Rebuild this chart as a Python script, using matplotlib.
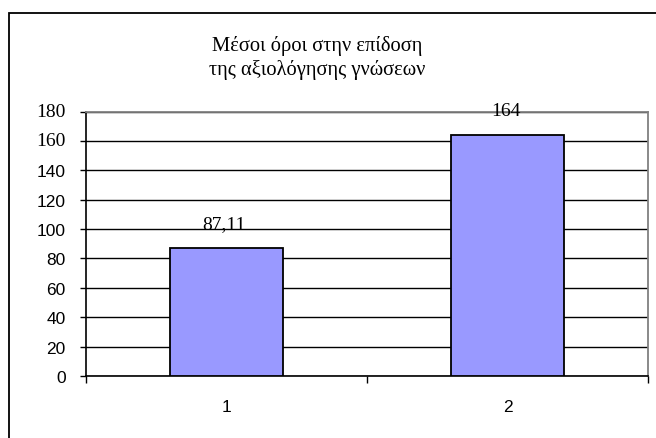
import matplotlib
matplotlib.use("Agg")
import matplotlib.pyplot as plt
from matplotlib.patches import Rectangle

categories = ["1", "2"]
values = [87.11, 164]
value_labels = ["87,11", "164"]
yticks = [0, 20, 40, 60, 80, 100, 120, 140, 160, 180]
serif_yticks = [160, 180]
title_lines = ["Μέσοι όροι στην επίδοση", "της αξιολόγησης γνώσεων"]

W, H = 656, 439
fig = plt.figure(figsize=(W / 100, H / 100), dpi=100)
fig.patch.set_facecolor("white")

# outer chart frame (cut off right and bottom)
fig.patches.append(Rectangle((9 / W, -0.05), 1.1, (H - 14) / H + 0.05,
                             transform=fig.transFigure, fill=False,
                             edgecolor="black", linewidth=1.3))

left, right, top, bottom = 86, 648, 112.5, 377
ax = fig.add_axes([left / W, (H - bottom) / H, (right - left) / W, (bottom - top) / H])

x = list(range(len(categories)))
ax.bar(x, values, width=0.4, color="#9999FF", edgecolor="black", linewidth=1.3, zorder=3)
ax.set_xlim(-0.5, len(categories) - 0.5)
ax.set_ylim(0, 180)

for xi, v, lab in zip(x, values, value_labels):
    ax.annotate(lab, (xi, v), xytext=(-1.5, 14.5), textcoords="offset points",
                ha="center", va="baseline", fontsize=14, family="Liberation Serif", zorder=5)

ax.yaxis.grid(True, color="black", linewidth=1.0, zorder=1)
ax.set_axisbelow(True)

ax.set_xticks(x)
ax.set_xticklabels(categories, fontsize=12.5, family="Liberation Sans")
ax.tick_params(axis="x", length=0, pad=16.5)
ax.set_xticks([-0.5, 0.5, 1.5], minor=True)
ax.tick_params(axis="x", which="minor", length=5, width=1, color="black")
ax.tick_params(axis="y", length=4.5, width=1, color="black", pad=10)

ax.set_yticks(yticks)
ax.set_yticklabels(["" if t in serif_yticks else str(t) for t in yticks],
                   fontsize=12.5, family="Liberation Sans")
for t in serif_yticks:
    ax.annotate(str(t), (0, t), xycoords=("axes fraction", "data"),
                xytext=(-14.5, 0), textcoords="offset points", ha="right", va="center",
                fontsize=14, family="Liberation Serif", annotation_clip=False)

for s in ["top", "right"]:
    ax.spines[s].set_color("#808080")
    ax.spines[s].set_linewidth(1.3)
for s in ["left", "bottom"]:
    ax.spines[s].set_color("black")
    ax.spines[s].set_linewidth(1.2)

for line, ybase in zip(title_lines, [51, 75]):
    fig.text(317 / W, 1 - ybase / H, line, ha="center", va="baseline", fontsize=14.8,
             family="Liberation Serif")

fig.savefig("out.png", dpi=100)
